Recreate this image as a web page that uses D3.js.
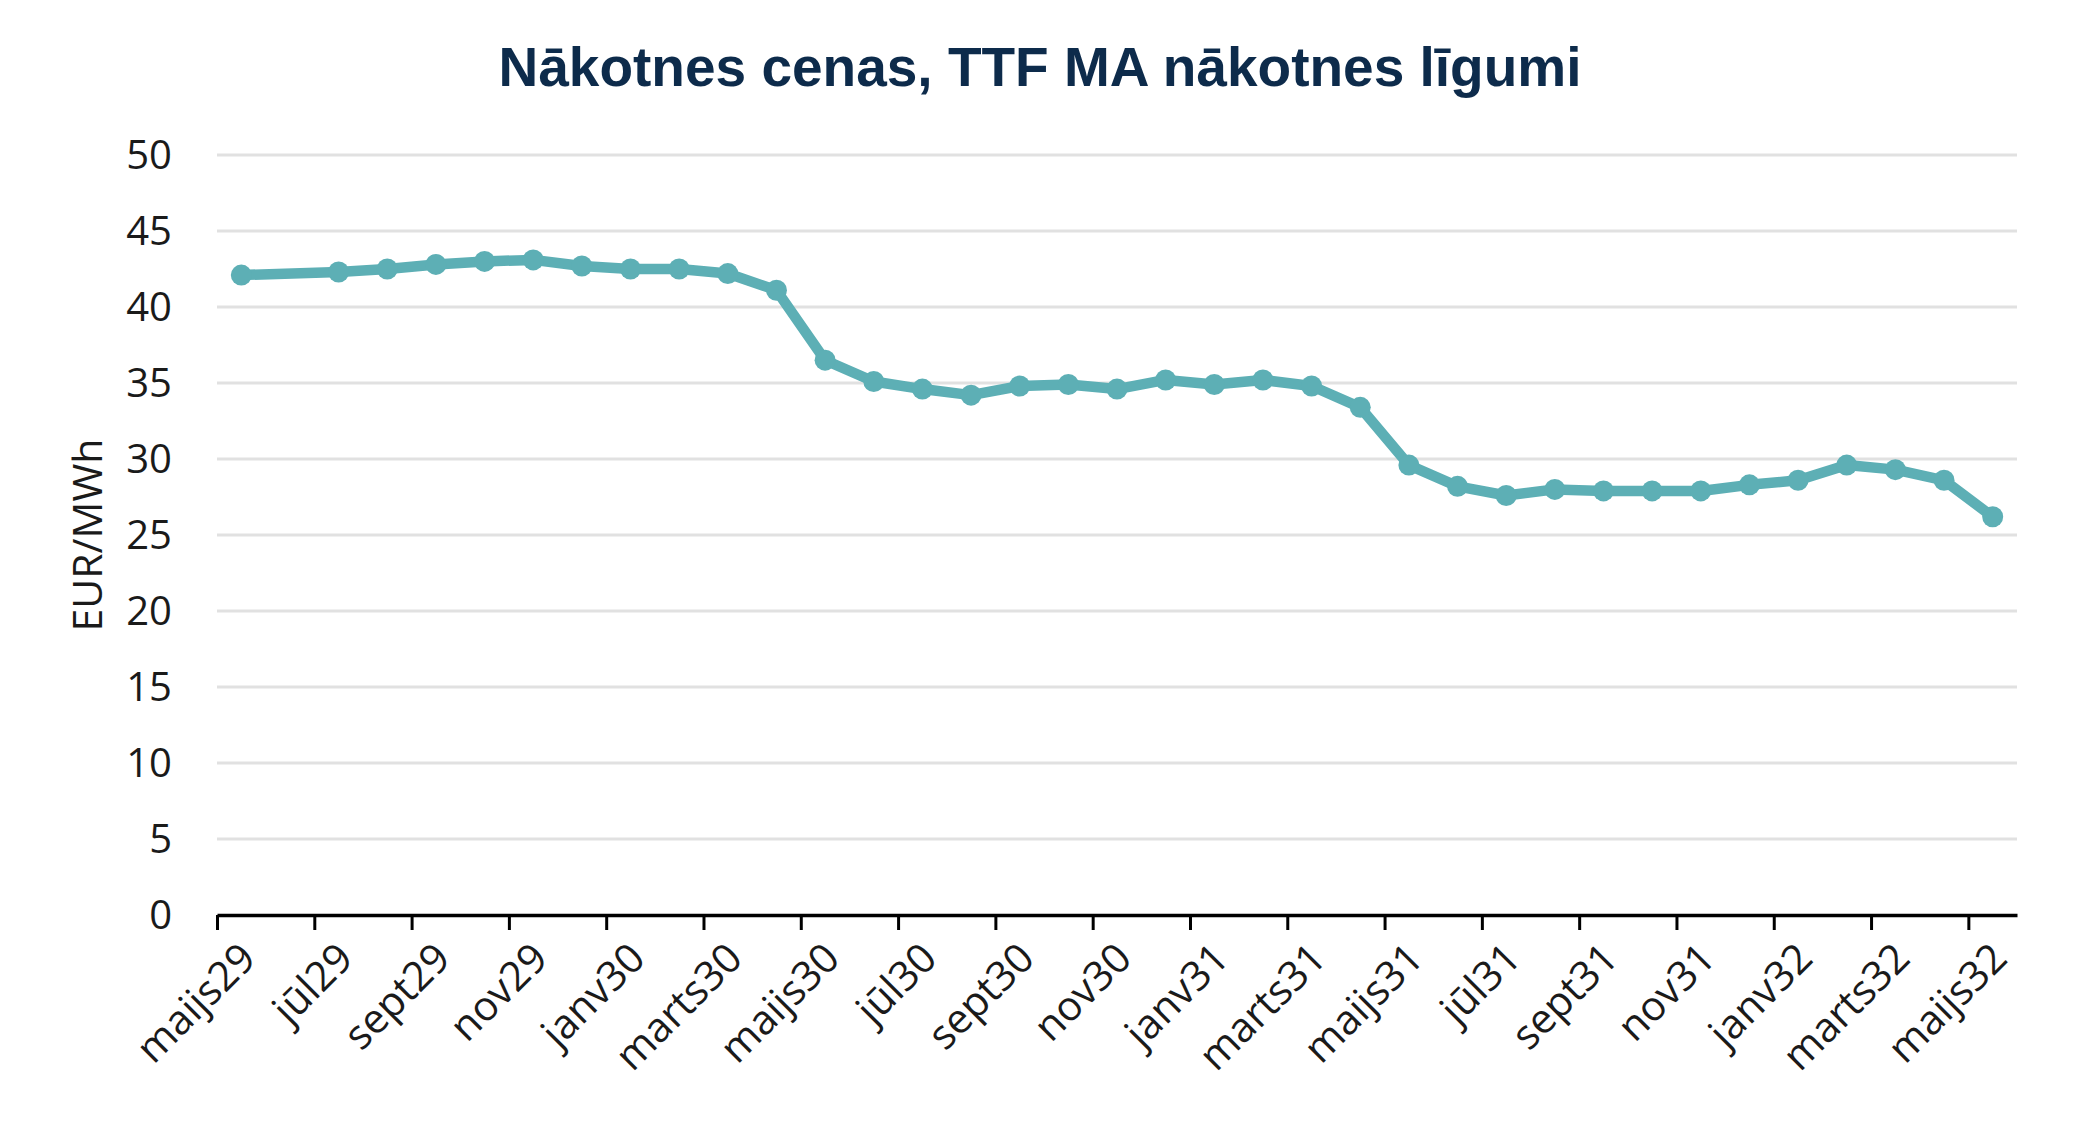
<!DOCTYPE html>
<html><head><meta charset="utf-8">
<script src="https://cdn.jsdelivr.net/npm/d3@7"></script>
<style>body{margin:0;background:#fff}</style>
</head><body>
<svg id="chart" width="2079" height="1127"></svg>
<script>
// ---- data ----
const title = "Nākotnes cenas, TTF MA nākotnes līgumi";
const yAxisTitle = "EUR/MWh";
const tickLabels = ["maijs29","jūl29","sept29","nov29","janv30","marts30","maijs30","jūl30","sept30","nov30","janv31","marts31","maijs31","jūl31","sept31","nov31","janv32","marts32","maijs32"];
const tickDates = ["2029-05","2029-07","2029-09","2029-11","2030-01","2030-03","2030-05","2030-07","2030-09","2030-11","2031-01","2031-03","2031-05","2031-07","2031-09","2031-11","2032-01","2032-03","2032-05"];
const pointDates = ["2029-05","2029-07","2029-08","2029-09","2029-10","2029-11","2029-12",
  "2030-01","2030-02","2030-03","2030-04","2030-05","2030-06","2030-07","2030-08","2030-09","2030-10","2030-11","2030-12",
  "2031-01","2031-02","2031-03","2031-04","2031-05","2031-06","2031-07","2031-08","2031-09","2031-10","2031-11","2031-12",
  "2032-01","2032-02","2032-03","2032-04","2032-05"];
const prices = [42.1,42.3,42.5,42.8,43.0,43.1,42.7,
  42.5,42.5,42.2,41.1,36.5,35.1,34.6,34.2,34.8,34.9,34.6,35.2,
  34.9,35.2,34.8,33.4,29.6,28.2,27.6,28.0,27.9,27.9,27.9,28.3,
  28.6,29.6,29.3,28.6,26.2];
const yTicks = [0,5,10,15,20,25,30,35,40,45,50];

// ---- layout ----
const svg = d3.select("#chart");
const pLeft = 217, pRight = 2017, pTop = 155, pBottom = 915;
const parse = d3.utcParse("%Y-%m");
const start = parse("2029-05");
const mIdx = s => d3.utcMonth.count(start, parse(s));

const x = d3.scaleLinear().domain([0, 37]).range([pLeft, pRight]);
const y = d3.scaleLinear().domain([0, 50]).range([pBottom, pTop]);

// gridlines
svg.append("g").selectAll("line").data(yTicks.filter(d => d > 0)).join("line")
  .attr("x1", pLeft).attr("x2", pRight)
  .attr("y1", d => y(d)).attr("y2", d => y(d))
  .attr("stroke", "#e1e1e1").attr("stroke-width", 3);

// y labels
svg.append("g").selectAll("text").data(yTicks).join("text")
  .attr("x", 172).attr("y", d => y(d)).attr("dy", "0.36em")
  .attr("text-anchor", "end")
  .attr("font-family", "'Open Sans', sans-serif").attr("font-size", 40)
  .attr("fill", "#1a1a1a").text(d => d);

// y axis title
svg.append("text")
  .attr("transform", `translate(102,${(pTop + pBottom) / 2}) rotate(-90)`)
  .attr("text-anchor", "middle")
  .attr("font-family", "'Open Sans', sans-serif").attr("font-size", 41)
  .attr("fill", "#1a1a1a").text(yAxisTitle);

// x axis
const xAxis = d3.axisBottom(x)
  .tickValues(tickDates.map(mIdx))
  .tickFormat((d, i) => tickLabels[i])
  .tickSize(15).tickSizeOuter(0);
const gx = svg.append("g").attr("transform", `translate(0,${pBottom})`).call(xAxis);
gx.select(".domain").attr("stroke", "#000").attr("stroke-width", 3.5);
gx.selectAll(".tick line").attr("stroke", "#000").attr("stroke-width", 3);
gx.selectAll(".tick text")
  .attr("font-family", "'Open Sans', sans-serif").attr("font-size", 41)
  .attr("fill", "#1a1a1a")
  .attr("text-anchor", "end")
  .attr("transform", "translate(20,25) rotate(-45)")
  .attr("x", 0).attr("y", 0).attr("dy", "0.71em");

// line
const pts = pointDates.map((d, i) => ({m: mIdx(d) + 0.5, v: prices[i]}));
const color = "#5dafb5";
svg.append("path").datum(pts)
  .attr("fill", "none").attr("stroke", color).attr("stroke-width", 10.5)
  .attr("stroke-linejoin", "round")
  .attr("d", d3.line().x(d => x(d.m)).y(d => y(d.v)));
svg.append("g").selectAll("circle").data(pts).join("circle")
  .attr("cx", d => x(d.m)).attr("cy", d => y(d.v)).attr("r", 10.5)
  .attr("fill", color);

// title
svg.append("text").attr("x", 1040).attr("y", 86)
  .attr("text-anchor", "middle")
  .attr("font-family", "'Liberation Sans', Arial, sans-serif").attr("font-weight", "bold")
  .attr("font-size", 55).attr("fill", "#0d2b4b").text(title);
</script>
</body></html>
